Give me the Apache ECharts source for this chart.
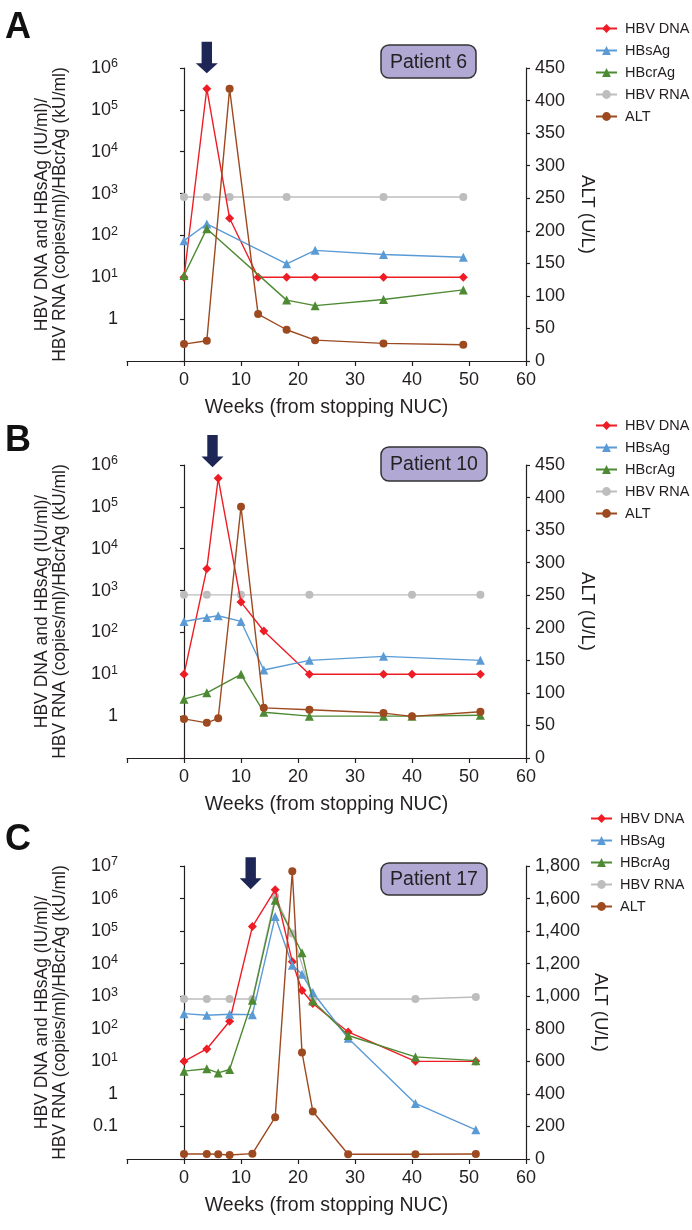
<!DOCTYPE html>
<html>
<head>
<meta charset="utf-8">
<script src="https://cdn.jsdelivr.net/npm/echarts@6/dist/echarts.min.js"></script>
<style>
  html, body { margin: 0; padding: 0; background: #fff; }
  #chart { width: 692px; height: 1230px; }
</style>
</head>
<body>
<div id="chart"></div>
<script>
// series names and looks
var names = ["HBV DNA", "HBsAg", "HBcrAg", "HBV RNA", "ALT"];
var colors = ["#ee1d25", "#5b9bd5", "#4d8a33", "#bdbdbd", "#9d4a20"];

// Panel A - patient 6
var aDnaWeeks = [0, 4, 8, 13, 18, 23, 35, 49];
var aDna = [10, 320000, 257, 10, 10, 10, 10, 10];
var aSagWeeks = [0, 4, 18, 23, 35, 49];
var aSag = [75, 188, 21, 44, 35, 30];
var aCrWeeks = [0, 4, 18, 23, 35, 49];
var aCr = [11, 145, 2.85, 2.1, 2.95, 5.0];
var aRnaWeeks = [0, 4, 8, 18, 35, 49];
var aRna = [830, 830, 830, 830, 830, 830];
var aAltWeeks = [0, 4, 8, 13, 18, 23, 35, 49];
var aAlt = [26, 31, 418, 72, 48, 32, 27, 25];

// Panel B - patient 10
var bDnaWeeks = [0, 4, 6, 10, 14, 22, 35, 40, 52];
var bDna = [10, 3300, 480000, 530, 108, 10, 10, 10, 10];
var bSagWeeks = [0, 4, 6, 10, 14, 22, 35, 52];
var bSag = [183, 228, 250, 183, 12.7, 21.5, 26.8, 21.5];
var bCrWeeks = [0, 4, 10, 14, 22, 35, 40, 52];
var bCr = [2.55, 3.6, 10, 1.24, 1, 1, 1, 1.05];
var bRnaWeeks = [0, 4, 10, 22, 40, 52];
var bRna = [790, 790, 790, 790, 790, 790];
var bAltWeeks = [0, 4, 6, 10, 14, 22, 35, 40, 52];
var bAlt = [60, 54, 61, 386, 77, 74, 69, 64, 71];

// Panel C - patient 17
var cDnaWeeks = [0, 4, 8, 12, 16, 19, 20.7, 22.6, 28.8, 40.6, 51.2];
var cDna = [10, 24, 170, 138000, 1870000, 11500, 1500, 600, 80, 10, 10];
var cSagWeeks = [0, 4, 8, 12, 16, 19, 20.7, 22.6, 28.8, 40.6, 51.2];
var cSag = [292, 260, 278, 272, 280000, 9000, 4700, 1300, 51, 0.51, 0.079];
var cCrWeeks = [0, 4, 6, 8, 12, 16, 20.7, 22.6, 28.8, 40.6, 51.2];
var cCr = [5.0, 5.9, 4.4, 5.6, 750, 890000, 21600, 710, 62, 13.7, 10.5];
var cRnaWeeks = [0, 4, 8, 12, 16, 19, 22.6, 40.6, 51.2];
var cRna = [820, 820, 820, 820, 1170000, 85000, 820, 820, 945];
var cAltWeeks = [0, 4, 6, 8, 12, 16, 19, 20.7, 22.6, 28.8, 40.6, 51.2];
var cAlt = [31, 31, 29, 25, 33, 257, 1767, 655, 292, 29, 29, 31];

// axes
var xTicks = [-10, 0, 10, 20, 30, 40, 50, 60];
var leftMin = [0.1, 0.1, 0.01];
var leftMax = [1e6, 1e6, 1e7];
var rightMax = [450, 450, 1800];
var rightStep = [50, 50, 200];
var patients = ["Patient 6", "Patient 10", "Patient 17"];
var panelLetters = ["A", "B", "C"];
var arrowWeeks = [4, 5, 11.7];

var font = '"Liberation Sans", Arial, sans-serif';
var ink = "#231f20";
var gridTops = [68, 465, 866];
var gridH = 293;

var panels = [
  [[aDnaWeeks, aDna], [aSagWeeks, aSag], [aCrWeeks, aCr], [aRnaWeeks, aRna], [aAltWeeks, aAlt]],
  [[bDnaWeeks, bDna], [bSagWeeks, bSag], [bCrWeeks, bCr], [bRnaWeeks, bRna], [bAltWeeks, bAlt]],
  [[cDnaWeeks, cDna], [cSagWeeks, cSag], [cCrWeeks, cCr], [cRnaWeeks, cRna], [cAltWeeks, cAlt]]
];

function pairs(w, v) {
  return w.map(function (x, i) { return [x, v[i]]; });
}

function logLabel(min) {
  return function (v) {
    var e = Math.round(Math.log10(v));
    if (e === Math.round(Math.log10(min))) return "";
    if (e === 0) return "1";
    if (e < 0) return String(Math.pow(10, e).toFixed(-e));
    return "10{s|" + e + "}";
  };
}

var grids = [], xAxes = [], yAxes = [], series = [], legends = [];
var symbols = ["diamond", "triangle", "triangle", "circle", "circle"];
var sizes = [9, 9, 9, 8, 8];
var legendTops = [16, 413, 806];
var legendLefts = [590, 590, 585];
var rightNameGap = [52, 52, 60];

for (var p = 0; p < 3; p++) {
  grids.push({ left: 127, top: gridTops[p], width: 399, height: gridH });
  xAxes.push({
    type: "value", gridIndex: p, min: -10, max: 60, interval: 10,
    name: "Weeks (from stopping NUC)", nameLocation: "middle", nameGap: 37,
    nameTextStyle: { fontFamily: font, fontSize: 19.5, color: ink },
    axisLine: { lineStyle: { color: ink, width: 1.2 } },
    axisTick: { length: 5, lineStyle: { color: ink, width: 1.2 } },
    axisLabel: { fontFamily: font, fontSize: 18, color: ink, margin: 10,
      formatter: function (v) { return v === xTicks[0] ? "" : String(v); } },
    splitLine: { show: false }
  });
  yAxes.push({
    type: "log", logBase: 10, gridIndex: p, position: "left",
    min: leftMin[p], max: leftMax[p],
    name: "HBV DNA and HBsAg (IU/ml)/\nHBV RNA (copies/ml)/HBcrAg (kU/ml)",
    nameLocation: "middle", nameRotate: 90, nameGap: 58,
    nameTextStyle: { fontFamily: font, fontSize: 17.5, color: ink, lineHeight: 18 },
    axisLine: { show: true, lineStyle: { color: ink, width: 1.2 } },
    axisTick: { show: true, length: 4, lineStyle: { color: ink, width: 1.2 } },
    axisLabel: { fontFamily: font, fontSize: 18, color: ink, margin: 9,
      formatter: logLabel(leftMin[p]),
      rich: { s: { fontFamily: font, fontSize: 12.5, color: ink, padding: [0, 0, 8, 0] } } },
    splitLine: { show: false }
  });
  yAxes.push({
    type: "value", gridIndex: p, position: "right",
    min: 0, max: rightMax[p], interval: rightStep[p],
    name: "ALT (U/L)", nameLocation: "middle", nameRotate: -90, nameGap: rightNameGap[p],
    nameTextStyle: { fontFamily: font, fontSize: 18.5, color: ink },
    axisLine: { show: true, lineStyle: { color: ink, width: 1.2 } },
    axisTick: { show: true, length: 4, lineStyle: { color: ink, width: 1.2 } },
    axisLabel: { fontFamily: font, fontSize: 18, color: ink, margin: 9,
      formatter: function (v) { return v.toLocaleString("en-US"); } },
    splitLine: { show: false }
  });
  for (var s = 0; s < 5; s++) {
    series.push({
      name: names[s], type: "line",
      xAxisIndex: p, yAxisIndex: s === 4 ? p * 2 + 1 : p * 2,
      data: pairs(panels[p][s][0], panels[p][s][1]),
      symbol: symbols[s], symbolSize: sizes[s],
      lineStyle: { color: colors[s], width: 1.4 },
      itemStyle: { color: colors[s] },
      z: s === 3 ? 1 : 2 + s,
      emphasis: { disabled: true }
    });
  }
  legends.push({
    orient: "vertical", left: legendLefts[p], top: legendTops[p],
    itemWidth: 21, itemHeight: 11, itemGap: 7, data: names,
    textStyle: { fontFamily: font, fontSize: 14.5, color: ink, lineHeight: 14, padding: [0, 0, 0, 3] }
  });
}

var chart = echarts.init(document.getElementById("chart"));
chart.setOption({
  animation: false,
  backgroundColor: "#fff",
  grid: grids, xAxis: xAxes, yAxis: yAxes, legend: legends, series: series
});

// letters, patient boxes, arrows
var letterY = [24, 437, 836];
var boxes = [
  { x: 381, y: 45, w: 95, h: 33 },
  { x: 381, y: 447, w: 106, h: 34 },
  { x: 381, y: 863, w: 106, h: 32 }
];
var arrowTop = [41.7, 435, 857.3], headTop = [63.3, 456.5, 878.3], tip = [73.3, 467.3, 889.3];
var graphics = [];
for (var k = 0; k < 3; k++) {
  graphics.push({
    type: "text", left: 5, top: letterY[k] - 14,
    style: { text: panelLetters[k], font: "bold 36px " + font, fill: "#111" }
  });
  graphics.push({
    type: "rect", shape: { x: boxes[k].x, y: boxes[k].y, width: boxes[k].w, height: boxes[k].h, r: 8 },
    style: { fill: "#b1a9d3", stroke: "#333", lineWidth: 1.5 }
  });
  graphics.push({
    type: "text", x: boxes[k].x + boxes[k].w / 2, y: boxes[k].y + boxes[k].h / 2 + 1,
    style: { text: patients[k], font: "19.5px " + font, fill: "#222", align: "center", verticalAlign: "middle" }
  });
  var cx = chart.convertToPixel({ xAxisIndex: k }, arrowWeeks[k]);
  graphics.push({
    type: "polygon",
    shape: { points: [
      [cx - 5.2, arrowTop[k]], [cx + 5.2, arrowTop[k]], [cx + 5.2, headTop[k]], [cx + 11, headTop[k]],
      [cx, tip[k]], [cx - 11, headTop[k]], [cx - 5.2, headTop[k]]
    ] },
    style: { fill: "#1d2654" }
  });
}
chart.setOption({ graphic: graphics });
</script>
</body>
</html>
